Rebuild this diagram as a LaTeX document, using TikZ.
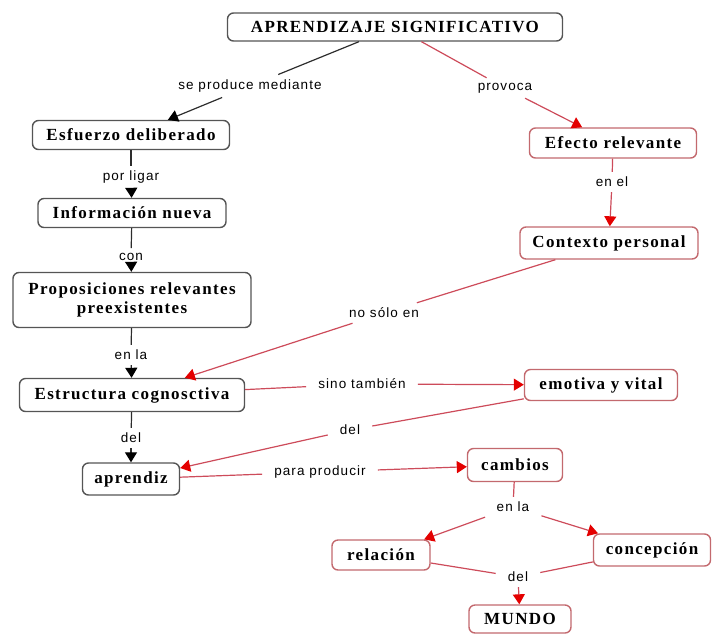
\documentclass[tikz,border=0pt]{standalone}
\usepackage{fontspec}
\setmainfont{Liberation Serif}
\newfontfamily\conceptfont[LetterSpace=8]{Liberation Serif}
\newfontfamily\linkfont[LetterSpace=8]{Liberation Sans}
\usetikzlibrary{arrows.meta}
\definecolor{bordeN}{RGB}{85,85,85}
\definecolor{bordeR}{RGB}{195,105,110}
\definecolor{lineaN}{RGB}{45,45,45}
\definecolor{lineaR}{RGB}{205,75,90}
\definecolor{puntaR}{RGB}{228,0,0}
\tikzset{
    concepto/.style={draw=bordeN, line width=1.4pt, rounded corners=6pt, fill=white, inner sep=2pt, align=center,
      font=\conceptfont\bfseries\fontsize{17}{19}\selectfont},
    conceptoR/.style={concepto, draw=bordeR},
    enlace/.style={inner xsep=12pt, inner ysep=5pt, font=\linkfont\fontsize{13.5}{15}\selectfont},
    negro/.style={draw=lineaN, line width=1.2pt},
    rojo/.style={draw=lineaR, line width=1.2pt},
    flechaN/.style={negro, -{Triangle[width=12pt,length=10pt,color=black]}},
    flechaR/.style={rojo, -{Triangle[width=12pt,length=10pt,color=puntaR]}},
  }

\begin{document}
\begin{tikzpicture}[x=1pt,y=-1pt]
				  \useasboundingbox (0,0) rectangle (712,633);
				  %CONCEPTOS
				  \node[concepto, minimum width=335pt, minimum height=28pt] (AS) at (395,27) {APRENDIZAJE SIGNIFICATIVO};
				  \node[concepto, minimum width=197pt, minimum height=29pt] (ED) at (131,135) {Esfuerzo deliberado};
				  \node[concepto, minimum width=188pt, minimum height=29pt] (IN) at (132,213) {Información nueva};
				  \node[concepto, minimum width=238pt, minimum height=55pt] (PR) at (132,300) {Proposiciones relevantes\\preexistentes};
				  \node[concepto, minimum width=225pt, minimum height=33pt] (EC) at (132,395) {Estructura cognosctiva};
				  \node[concepto, minimum width=97pt, minimum height=32pt] (AP) at (131,479) {aprendiz};
				  \node[conceptoR, minimum width=167pt, minimum height=30pt] (ER) at (613,143) {Efecto relevante};
				  \node[conceptoR, minimum width=178pt, minimum height=32pt] (CP) at (609,243) {Contexto personal};
				  \node[conceptoR, minimum width=153pt, minimum height=31pt] (EV) at (601,385) {emotiva y vital};
				  \node[conceptoR, minimum width=95pt, minimum height=33pt] (CA) at (515,465) {cambios};
				  \node[conceptoR, minimum width=98pt, minimum height=30pt] (RE) at (381,555) {relación};
				  \node[conceptoR, minimum width=117pt, minimum height=32pt] (CO) at (652,550) {concepción};
				  \node[conceptoR, minimum width=102pt, minimum height=28pt] (MU) at (520,619) {MUNDO};
				  
				  %ENLACES
				  \node[enlace] (sp) at (250,86) {se produce mediante};
				  \node[enlace] (pv) at (505,88) {provoca};
				  \node[enlace] (pl) at (131,177) {por ligar};
				  \node[enlace] (cn) at (131,257) {con};
				  \node[enlace] (la1) at (131,355) {en la};
				  \node[enlace] (de1) at (131,438) {del};
				  \node[enlace] (ee) at (612,182) {en el};
				  \node[enlace] (ns) at (384,313) {no sólo en};
				  \node[enlace] (st) at (362,384) {sino también};
				  \node[enlace] (de2) at (350,430) {del};
				  \node[enlace] (pp) at (320,472) {para producir};
				  \node[enlace] (la2) at (513,507) {en la};
				  \node[enlace] (de3) at (518,577) {del};
				  
				  %FLECHAS negras
				  \draw[negro] (AS) -- (sp);  \draw[flechaN] (sp) -- (ED);
				  \draw[negro] (ED) -- (pl);  \draw[flechaN] (pl) -- (IN);
				  \draw[negro] (IN) -- (cn);  \draw[flechaN] (cn) -- (PR);
				  \draw[negro] (PR) -- (la1); \draw[flechaN] (la1) -- (EC);
				  \draw[negro] (EC) -- (de1); \draw[flechaN] (de1) -- (AP);
				  
				  %FLECHAS rojas
				  \draw[rojo] (AS) -- (pv);   \draw[flechaR] (pv) -- (ER);
				  \draw[rojo] (ER) -- (ee);   \draw[flechaR] (ee) -- (CP);
				  \draw[rojo] (CP) -- (ns);   \draw[flechaR] (ns) -- (EC);
				  \draw[rojo] (EC) -- (st);   \draw[flechaR] (st) -- (EV);
				  \draw[rojo] (EV) -- (de2);  \draw[flechaR] (de2) -- (AP);
				  \draw[rojo] (AP) -- (pp);   \draw[flechaR] (pp) -- (CA);
				  \draw[rojo] (CA) -- (la2);  \draw[flechaR] (la2) -- (RE);
				  \draw[flechaR] (la2) -- (CO);
				  \draw[rojo] (RE) -- (de3);  \draw[rojo] (CO) -- (de3);
				  \draw[flechaR] (de3) -- (MU);
\end{tikzpicture}
\end{document}
